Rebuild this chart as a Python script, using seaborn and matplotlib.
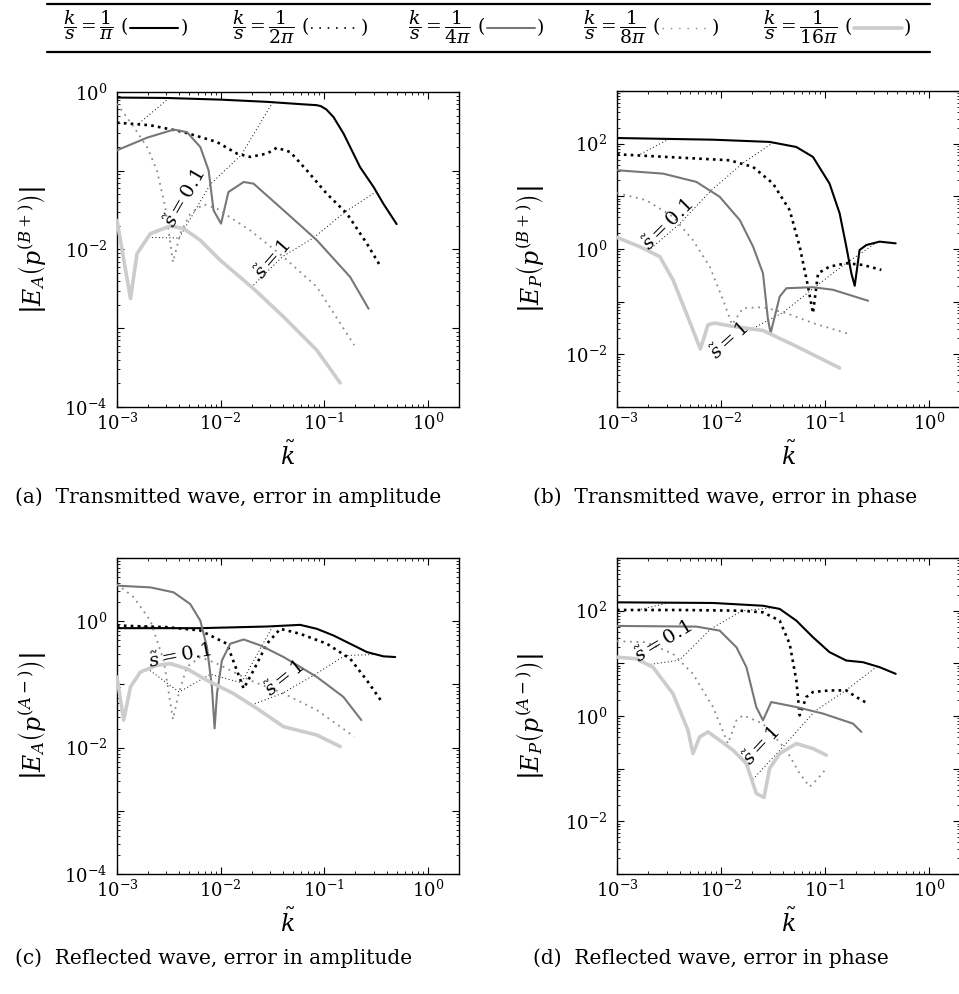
import numpy as np
import pandas as pd
import matplotlib
matplotlib.use("Agg")
import matplotlib.pyplot as plt
from matplotlib.lines import Line2D
from matplotlib.ticker import LogLocator, FuncFormatter, NullFormatter
import seaborn as sns

# ---------------------------------------------------------------- data
# ratios k/s of the five runs
ratio_names = ["1/pi", "1/2pi", "1/4pi", "1/8pi", "1/16pi"]
ratio_values = [1 / np.pi, 1 / (2 * np.pi), 1 / (4 * np.pi), 1 / (8 * np.pi), 1 / (16 * np.pi)]
ratio_tex = [r"$\dfrac{k}{s} = \dfrac{1}{\pi}$", r"$\dfrac{k}{s} = \dfrac{1}{2\pi}$",
             r"$\dfrac{k}{s} = \dfrac{1}{4\pi}$", r"$\dfrac{k}{s} = \dfrac{1}{8\pi}$",
             r"$\dfrac{k}{s} = \dfrac{1}{16\pi}$"]

# levels of constant s-tilde joining the curves
s_levels = [0.01, 0.1, 1.0]
s_level_labels = {0.1: r"$\tilde{s} = 0.1$", 1.0: r"$\tilde{s} = 1$"}

# (a) transmitted wave, error in amplitude
k_ta_1 = [1e-3, 3e-3, 1e-2, 2.8e-2, 6e-2, 8.5e-2, 0.093, 0.105, 0.123, 0.154, 0.222, 0.30, 0.373, 0.50]
e_ta_1 = [0.85, 0.84, 0.80, 0.75, 0.70, 0.68, 0.66, 0.60, 0.48, 0.295, 0.111, 0.062, 0.038, 0.021]
k_ta_2 = [1e-3, 0.0021, 0.0044, 0.0092, 0.0144, 0.0193, 0.028, 0.0349, 0.047, 0.068, 0.106, 0.166, 0.258, 0.355]
e_ta_2 = [0.408, 0.378, 0.31, 0.232, 0.165, 0.15, 0.165, 0.196, 0.173, 0.101, 0.051, 0.0285, 0.0119, 0.0059]
k_ta_3 = [1e-3, 0.00195, 0.00352, 0.00473, 0.00637, 0.00766, 0.00855, 0.0101, 0.0119, 0.0167, 0.0208, 0.0406, 0.085, 0.178, 0.268]
e_ta_3 = [0.182, 0.263, 0.333, 0.31, 0.2, 0.101, 0.0314, 0.0213, 0.0537, 0.072, 0.0686, 0.0314, 0.0131, 0.00448, 0.00177]
k_ta_4 = [1e-3, 0.00145, 0.00195, 0.00243, 0.00292, 0.00347, 0.00408, 0.00509, 0.00685, 0.00923, 0.0193, 0.0406, 0.085, 0.195]
e_ta_4 = [0.71, 0.36, 0.2, 0.101, 0.0347, 0.0069, 0.0159, 0.0285, 0.0375, 0.033, 0.0175, 0.008, 0.00334, 0.00061]
k_ta_5 = [1e-3, 0.00135, 0.00156, 0.0021, 0.00327, 0.0044, 0.00637, 0.00993, 0.0208, 0.0406, 0.085, 0.1426]
e_ta_5 = [0.0234, 0.00238, 0.00885, 0.0159, 0.0199, 0.0184, 0.0131, 0.0073, 0.00318, 0.00139, 0.000525, 0.000202]

# (b) transmitted wave, error in phase
k_tp_1 = [1e-3, 0.0084, 0.0294, 0.0532, 0.0769, 0.111, 0.139, 0.161, 0.18, 0.194, 0.216, 0.251, 0.337, 0.481]
e_tp_1 = [128, 119, 108, 86.5, 56, 17.5, 4.73, 1.11, 0.346, 0.2, 0.957, 1.19, 1.38, 1.28]
k_tp_2 = [1e-3, 0.0121, 0.0204, 0.0317, 0.0459, 0.0573, 0.0689, 0.0769, 0.0861, 0.111, 0.161, 0.233, 0.35]
e_tp_2 = [62.8, 48.4, 36.1, 17.5, 5.47, 1.11, 0.194, 0.0605, 0.346, 0.463, 0.536, 0.498, 0.401]
k_tp_3 = [1e-3, 0.00277, 0.00581, 0.00973, 0.0152, 0.0204, 0.0254, 0.0284, 0.0301, 0.0368, 0.0427, 0.0769, 0.12, 0.261]
e_tp_3 = [31.3, 27, 18.8, 9.79, 3.54, 1.11, 0.346, 0.0453, 0.0254, 0.125, 0.180, 0.188, 0.168, 0.104]
k_tp_4 = [1e-3, 0.00191, 0.00346, 0.00538, 0.0078, 0.0105, 0.0128, 0.0163, 0.0254, 0.0427, 0.0769, 0.18]
e_tp_4 = [11.6, 8.45, 4.09, 1.48, 0.463, 0.108, 0.0365, 0.0754, 0.0787, 0.0605, 0.0392, 0.0236]
k_tp_5 = [1e-3, 0.00165, 0.00258, 0.00346, 0.00465, 0.00634, 0.00752, 0.00871, 0.0131, 0.0254, 0.0532, 0.139]
e_tp_5 = [1.66, 1.11, 0.716, 0.259, 0.0605, 0.0126, 0.0365, 0.0392, 0.0339, 0.0284, 0.0142, 0.0055]

# (c) reflected wave, error in amplitude
k_ra_1 = [1e-3, 0.00637, 0.028, 0.0586, 0.085, 0.123, 0.178, 0.258, 0.373, 0.484]
e_ra_1 = [0.776, 0.776, 0.824, 0.875, 0.757, 0.594, 0.44, 0.325, 0.278, 0.271]
k_ra_2 = [1e-3, 0.00303, 0.00637, 0.0115, 0.0167, 0.0208, 0.028, 0.0377, 0.0586, 0.106, 0.178, 0.258, 0.36]
e_ra_2 = [0.855, 0.805, 0.713, 0.44, 0.0859, 0.167, 0.44, 0.757, 0.632, 0.44, 0.255, 0.116, 0.053]
k_ra_3 = [1e-3, 0.0021, 0.00352, 0.00509, 0.00637, 0.00738, 0.00824, 0.00875, 0.00923, 0.0103, 0.0124, 0.0167, 0.0242, 0.0406, 0.085, 0.153, 0.228]
e_ra_3 = [3.65, 3.43, 2.86, 1.87, 1.02, 0.39, 0.0914, 0.0201, 0.0718, 0.24, 0.44, 0.514, 0.414, 0.271, 0.131, 0.0635, 0.0273]
k_ra_4 = [1e-3, 0.00145, 0.0021, 0.00282, 0.00347, 0.00394, 0.00473, 0.00637, 0.00923, 0.0193, 0.0406, 0.085, 0.195]
e_ra_4 = [3.87, 2.39, 1.02, 0.24, 0.0279, 0.0718, 0.189, 0.271, 0.213, 0.116, 0.0718, 0.0392, 0.0149]
k_ra_5 = [1e-3, 0.00116, 0.00135, 0.00168, 0.00243, 0.00327, 0.00473, 0.00738, 0.0133, 0.0224, 0.0406, 0.085, 0.1426]
e_ra_5 = [0.131, 0.0273, 0.0914, 0.157, 0.2, 0.213, 0.177, 0.116, 0.0718, 0.0416, 0.0214, 0.0158, 0.0104]

# (d) reflected wave, error in phase
k_rp_1 = [1e-3, 0.0084, 0.0254, 0.0368, 0.0532, 0.0769, 0.111, 0.161, 0.233, 0.337, 0.481]
e_rp_1 = [144, 140, 124, 108, 64.7, 31.3, 16.3, 11.3, 10.5, 8.45, 6.32]
k_rp_2 = [1e-3, 0.00401, 0.0152, 0.0254, 0.0368, 0.0459, 0.0532, 0.0573, 0.0664, 0.0769, 0.111, 0.161, 0.201, 0.261]
e_rp_2 = [103, 103, 100, 92.9, 64.7, 23.4, 4.73, 1.03, 2.29, 2.85, 3.06, 3.06, 2.29, 1.71]
k_rp_3 = [1e-3, 0.00581, 0.00973, 0.0141, 0.0176, 0.0219, 0.0254, 0.0305, 0.0368, 0.0532, 0.0962, 0.187, 0.225]
e_rp_3 = [51.3, 49.8, 41.8, 20.2, 8.45, 1.48, 0.828, 1.84, 1.71, 1.48, 1.11, 0.716, 0.498]
k_rp_4 = [1e-3, 0.00191, 0.00346, 0.00538, 0.0084, 0.0117, 0.0141, 0.0163, 0.0254, 0.0427, 0.0573, 0.0715, 0.083, 0.1035]
e_rp_4 = [26.3, 25.2, 15.1, 6.32, 1.48, 0.299, 0.828, 1.03, 0.716, 0.224, 0.0811, 0.0453, 0.0605, 0.1007]
k_rp_5 = [1e-3, 0.00153, 0.00222, 0.00346, 0.00482, 0.00538, 0.00625, 0.00752, 0.00973, 0.0131, 0.0176, 0.0219, 0.026, 0.0294, 0.0368, 0.0532, 0.0769, 0.1035]
e_rp_5 = [13.1, 12.2, 8.45, 2.65, 0.536, 0.194, 0.401, 0.498, 0.346, 0.224, 0.125, 0.0339, 0.0284, 0.1007, 0.194, 0.299, 0.241, 0.18]

# axis labels and captions
ylabels = [r"$\left|E_A\left(p^{(B+)}\right)\right|$", r"$\left|E_P\left(p^{(B+)}\right)\right|$",
           r"$\left|E_A\left(p^{(A-)}\right)\right|$", r"$\left|E_P\left(p^{(A-)}\right)\right|$"]
captions = ["(a)  Transmitted wave, error in amplitude", "(b)  Transmitted wave, error in phase",
            "(c)  Reflected wave, error in amplitude", "(d)  Reflected wave, error in phase"]
xlabel = r"$\tilde{k}$"

# ---------------------------------------------------------------- style
sns.set_theme(style="ticks")
plt.rcParams["font.family"] = ["DejaVu Serif"]
plt.rcParams["mathtext.fontset"] = "dejavuserif"
plt.rcParams["axes.linewidth"] = 1.0
for key in ("text.color", "axes.labelcolor", "axes.edgecolor", "xtick.color", "ytick.color"):
    plt.rcParams[key] = "black"

colors = {"1/pi": "#000000", "1/2pi": "#000000", "1/4pi": "#777777", "1/8pi": "#8a8a8a", "1/16pi": "#cccccc"}
dashes = {"1/pi": "", "1/2pi": (1, 1.6), "1/4pi": "", "1/8pi": (1, 2.6), "1/16pi": ""}
widths = {"1/pi": 1.5, "1/2pi": 1.9, "1/4pi": 1.5, "1/8pi": 1.3, "1/16pi": 2.6}
key_widths = {"1/pi": 1.5, "1/2pi": 1.2, "1/4pi": 1.5, "1/8pi": 1.0, "1/16pi": 2.6}
key_dashes = {"1/pi": None, "1/2pi": (1, 4), "1/4pi": None, "1/8pi": (1, 5), "1/16pi": None}

W, H = 959, 994


def rect(left, top, right, bottom):
    return [left / W, 1 - bottom / H, (right - left) / W, (bottom - top) / H]


panels = [
    dict(ks=[k_ta_1, k_ta_2, k_ta_3, k_ta_4, k_ta_5], es=[e_ta_1, e_ta_2, e_ta_3, e_ta_4, e_ta_5],
         rect=rect(117, 92, 459, 407), ylim=(1e-4, 1e0), ylab_x=-0.25,
         labels=[(0.00453, 0.045, 60, 0.1), (0.0319, 0.00736, 49, 1.0)]),
    dict(ks=[k_tp_1, k_tp_2, k_tp_3, k_tp_4, k_tp_5], es=[e_tp_1, e_tp_2, e_tp_3, e_tp_4, e_tp_5],
         rect=rect(617, 91, 960, 407), ylim=(1e-3, 1e3), ylab_x=-0.254,
         labels=[(0.0031, 2.9, 45, 0.1), (0.0122, 0.0176, 42, 1.0)]),
    dict(ks=[k_ra_1, k_ra_2, k_ra_3, k_ra_4, k_ra_5], es=[e_ra_1, e_ra_2, e_ra_3, e_ra_4, e_ra_5],
         rect=rect(117, 558, 459, 874), ylim=(1e-4, 1e1), ylab_x=-0.25,
         labels=[(0.00404, 0.274, 11, 0.1), (0.0417, 0.123, 39, 1.0)]),
    dict(ks=[k_rp_1, k_rp_2, k_rp_3, k_rp_4, k_rp_5], es=[e_rp_1, e_rp_2, e_rp_3, e_rp_4, e_rp_5],
         rect=rect(617, 558, 960, 874), ylim=(1e-3, 1e3), ylab_x=-0.254,
         labels=[(0.00277, 25.6, 31, 0.1), (0.0248, 0.263, 47, 1.0)]),
]
caption_pos = [(15, 497), (533, 497), (15, 958), (533, 958)]


def even_decades(v, pos):
    e = int(round(np.log10(v)))
    return r"$\mathdefault{10^{%d}}$" % e if e % 2 == 0 else ""


def loglog_interp(xq, xs, ys):
    return 10 ** np.interp(np.log10(xq), np.log10(xs), np.log10(ys))


fig = plt.figure(figsize=(W / 100, H / 100), dpi=100)

for i, p in enumerate(panels):
    ax = fig.add_axes(p["rect"])
    ax.set_xscale("log")
    ax.set_yscale("log")

    frames = [pd.DataFrame({"k": k, "err": e, "ratio": name})
              for k, e, name in zip(p["ks"], p["es"], ratio_names)]
    df = pd.concat(frames, ignore_index=True)
    sns.lineplot(data=df, x="k", y="err", hue="ratio", style="ratio", size="ratio",
                 hue_order=ratio_names, style_order=ratio_names, size_order=ratio_names,
                 palette=colors, dashes=dashes, sizes=widths,
                 estimator=None, sort=False, legend=False, ax=ax, zorder=3)

    # lines of constant s-tilde through the curves
    for s in s_levels:
        xs, ys = [], []
        for k, e, r in zip(p["ks"], p["es"], ratio_values):
            kq = s * r
            if k[0] <= kq <= k[-1]:
                xs.append(kq)
                ys.append(loglog_interp(kq, k, e))
        if len(xs) > 1:
            ax.plot(xs, ys, color="black", lw=0.7, dashes=(1, 2.6), zorder=2)

    for x, y, rot, s in p["labels"]:
        ax.text(x, y, s_level_labels[s], rotation=rot, rotation_mode="anchor",
                ha="center", va="center", fontsize=14, zorder=4)

    ax.set_xlim(1e-3, 2)
    ax.set_ylim(*p["ylim"])
    ax.xaxis.set_major_locator(LogLocator(base=10, numticks=20))
    ax.yaxis.set_major_locator(LogLocator(base=10, numticks=20))
    ax.xaxis.set_minor_locator(LogLocator(base=10, subs=np.arange(2, 10), numticks=20))
    ax.yaxis.set_minor_locator(LogLocator(base=10, subs=np.arange(2, 10), numticks=20))
    ax.yaxis.set_major_formatter(FuncFormatter(even_decades))
    ax.xaxis.set_minor_formatter(NullFormatter())
    ax.yaxis.set_minor_formatter(NullFormatter())
    ax.tick_params(which="both", direction="in", top=True, right=True, labelsize=13)
    ax.tick_params(which="major", length=5, width=0.8)
    ax.tick_params(which="minor", length=2.5, width=0.6)
    ax.tick_params(axis="y", pad=7)
    ax.tick_params(axis="x", pad=4)

    ax.set_xlabel(xlabel, fontsize=17, va="center")
    ax.xaxis.set_label_coords(0.5, -0.156)
    ax.set_ylabel(ylabels[i], fontsize=17, va="center")
    ax.yaxis.set_label_coords(p["ylab_x"], 0.5)

    cx, cy = caption_pos[i]
    fig.text(cx / W, 1 - cy / H, captions[i], fontsize=14.5, ha="left", va="center")

# ---------------------------------------------------------------- key table
for y_rule in (4, 52):
    fig.add_artist(Line2D([47 / W, 930 / W], [1 - y_rule / H] * 2, color="black", lw=1.6,
                          transform=fig.transFigure))

renderer = fig.canvas.get_renderer()
key_x = [63, 232, 408, 583, 763]
y_base = 1 - 33 / H
y_mid = 1 - 28 / H
for x0, name, tex in zip(key_x, ratio_names, ratio_tex):
    t = fig.text(x0 / W, y_base, tex + " (", fontsize=13.5, ha="left", va="baseline")
    bb = t.get_window_extent(renderer)
    xa = bb.x1 + 2
    xb = xa + 48
    line = Line2D([xa / W, xb / W], [y_mid, y_mid], color=colors[name], lw=key_widths[name],
                  transform=fig.transFigure)
    if key_dashes[name] is not None:
        line.set_dashes(key_dashes[name])
    fig.add_artist(line)
    fig.text((xb + 2) / W, y_base, ")", fontsize=13.5, ha="left", va="baseline")

fig.savefig("out.png", dpi=100)
